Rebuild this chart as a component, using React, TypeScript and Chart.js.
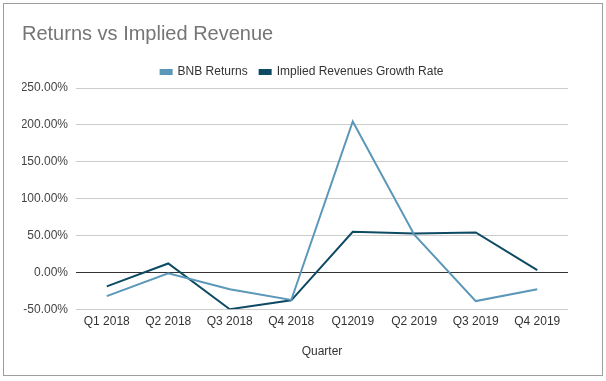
import React, { useEffect, useRef } from "react";
import { Chart, registerables } from "chart.js";

Chart.register(...registerables);

const categories = ["Q1 2018", "Q2 2018", "Q3 2018", "Q4 2018", "Q12019", "Q2 2019", "Q3 2019", "Q4 2019"];
const bnbReturns = [-32.3, -1.3, -23, -37.5, 204.5, 51, -39, -23];
const impliedGrowth = [-19, 12, -50, -38, 55, 52.5, 54, 3];
const yTicks = [-50, 0, 50, 100, 150, 200, 250];

const FONT = "'Liberation Sans', Arial, sans-serif";

const legendShift = {
  id: "legendShift",
  afterLayout(chart: any) {
    const lg = chart.legend;
    if (lg && !lg._shifted) {
      lg.left += 7;
      lg.right += 7;
      lg._shifted = true;
    }
  },
};

export default function App() {
  const ref = useRef<HTMLCanvasElement>(null);
  useEffect(() => {
    document.body.style.margin = "0";
    const ctx = ref.current!;
    const chart = new Chart(ctx, {
      type: "line",
      data: {
        labels: categories,
        datasets: [
          {
            label: "BNB Returns",
            data: bnbReturns,
            borderColor: "#5b97b8",
            backgroundColor: "#5b97b8",
            borderWidth: 2,
            pointRadius: 0,
            tension: 0,
          },
          {
            label: "Implied Revenues Growth Rate",
            data: impliedGrowth,
            borderColor: "#0d4a63",
            backgroundColor: "#0d4a63",
            borderWidth: 2,
            pointRadius: 0,
            tension: 0,
          },
        ],
      },
      plugins: [legendShift],
      options: {
        responsive: false,
        animation: false,
        layout: { padding: { left: 22, right: 38, top: 12, bottom: 22 } },
        plugins: {
          title: {
            display: true,
            text: "Returns vs Implied Revenue",
            align: "start",
            color: "#757575",
            font: { family: FONT, size: 20, weight: "normal" },
            padding: { top: 10, bottom: 8 },
          },
          legend: {
            display: true,
            position: "top",
            labels: {
              boxWidth: 11,
              boxHeight: 4,
              color: "#333",
              font: { family: FONT, size: 12 },
              padding: 12,
            },
          },
          tooltip: { enabled: false },
        },
        scales: {
          x: {
            offset: true,
            grid: { display: false, drawTicks: false },
            border: { display: false },
            ticks: { color: "#333", font: { family: FONT, size: 12 }, padding: 5, maxRotation: 0, autoSkip: false },
            title: {
              display: true,
              text: "Quarter",
              color: "#333",
              font: { family: FONT, size: 12 },
              padding: { top: 11, bottom: 0 },
            },
          },
          y: {
            min: -50,
            max: 250,
            afterBuildTicks: (axis: any) => {
              axis.ticks = yTicks.map((v) => ({ value: v }));
            },
            afterFit: (axis: any) => {
              axis.width = 54;
            },
            grid: {
              drawTicks: false,
              color: (c: any) => (c.tick && c.tick.value === 0 ? "#333" : "#cccccc"),
              lineWidth: 1,
            },
            border: { display: false },
            ticks: {
              color: "#444",
              font: { family: FONT, size: 12 },
              padding: 8,
              callback: (v: any) => Number(v).toFixed(2) + "%",
            },
          },
        },
      },
    });
    return () => chart.destroy();
  }, []);

  return (
    <div style={{ position: "relative", width: 606, height: 381, background: "#fff" }}>
      <canvas ref={ref} width={606} height={381} style={{ position: "absolute", left: 0, top: 0 }} />
      <div
        style={{
          position: "absolute",
          left: 3,
          top: 3,
          width: 598,
          height: 371,
          border: "1px solid #9e9e9e",
          pointerEvents: "none",
        }}
      />
    </div>
  );
}
